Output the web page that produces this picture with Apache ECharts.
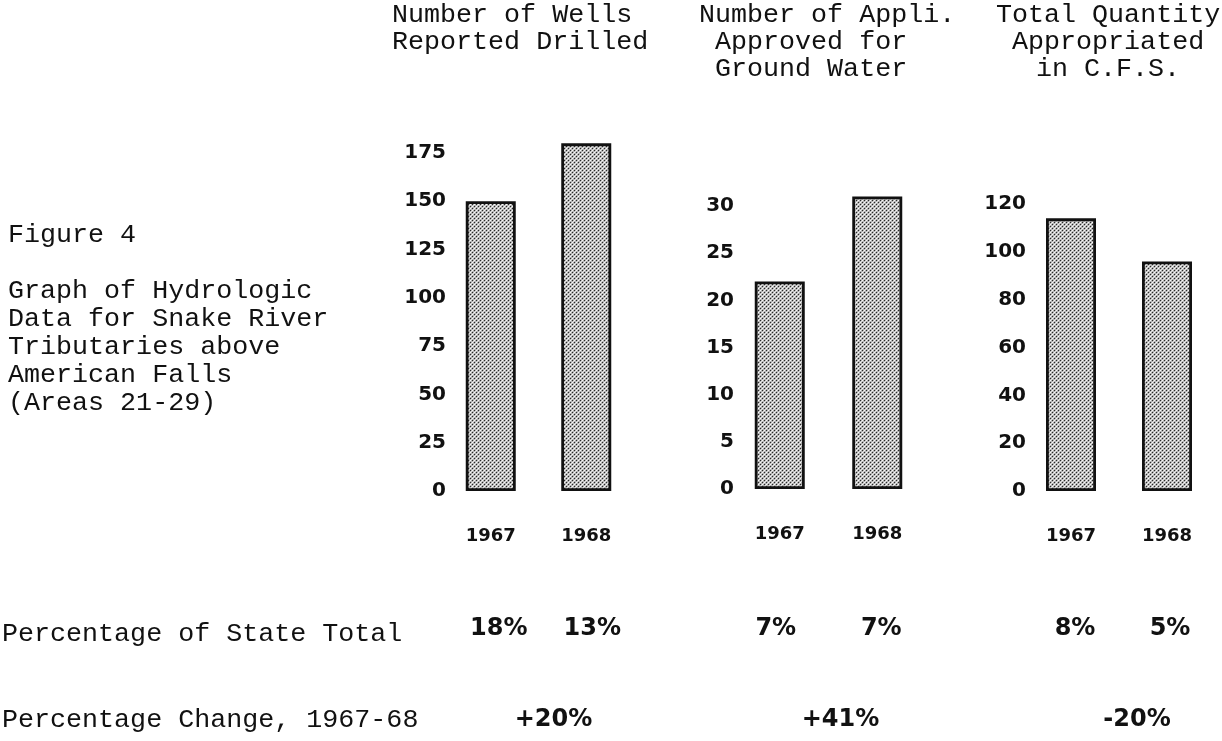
<!DOCTYPE html>
<html>
<head>
<meta charset="utf-8">
<script src="https://cdn.jsdelivr.net/npm/echarts@6/dist/echarts.min.js"></script>
<style>
html,body{margin:0;padding:0;background:#fff;}
#chart{width:1222px;height:741px;}
</style>
</head>
<body>
<div id="chart"></div>
<script>
// ---- data ----
const years = ['1967', '1968'];
const wellsDrilled = [150, 180];
const appsApproved = [22, 31];
const quantityCfs = [114, 96];
const wellsAxis = {max: 175, interval: 25};
const appsAxis = {max: 30, interval: 5};
const qtyAxis = {max: 120, interval: 20};
const titleWells = ['Number of Wells', 'Reported Drilled'];
const titleApps = ['Number of Appli.', 'Approved for', 'Ground Water'];
const titleQty = ['Total Quantity', 'Appropriated', 'in C.F.S.'];
const captionLines = ['Figure 4', '', 'Graph of Hydrologic', 'Data for Snake River', 'Tributaries above', 'American Falls', '(Areas 21-29)'];
const rowLabelState = 'Percentage of State Total';
const rowLabelChange = 'Percentage Change, 1967-68';
const pctStateWells = ['18%', '13%'];
const pctStateApps = ['7%', '7%'];
const pctStateQty = ['8%', '5%'];
const pctChange = ['+20%', '+41%', '-20%'];

// ---- style ----
const MONO = "'Liberation Mono', 'DejaVu Sans Mono', monospace";
const SANS = "'DejaVu Sans', sans-serif";
const INK = '#111';

function makePattern() {
  const c = document.createElement('canvas');
  c.width = 4; c.height = 4;
  const g = c.getContext('2d');
  g.fillStyle = '#b4b4b4'; g.fillRect(0, 0, 4, 4);
  g.fillStyle = '#2a2a2a';
  g.fillRect(0, 0, 1, 1); g.fillRect(2, 2, 1, 1);
  g.fillStyle = '#fbfbfb';
  g.fillRect(2, 0, 1, 1); g.fillRect(0, 2, 1, 1);
  g.fillStyle = '#e2e2e2';
  g.fillRect(1, 1, 1, 1); g.fillRect(3, 3, 1, 1);
  return c;
}
const pattern = {image: makePattern(), repeat: 'repeat'};

const grids = [
  {left: 443, width: 191, top: 153, bottom: 250},
  {left: 731, width: 195, top: 206, bottom: 252},
  {left: 1023, width: 192, top: 204, bottom: 250}
];
const axesCfg = [wellsAxis, appsAxis, qtyAxis];
const seriesData = [wellsDrilled, appsApproved, quantityCfs];

const chart = echarts.init(document.getElementById('chart'), null, {renderer: 'canvas'});

const option = {
  backgroundColor: '#fff',
  animation: false,
  grid: grids,
  xAxis: grids.map((g, i) => ({
    type: 'category', gridIndex: i, data: years,
    axisLine: {show: false}, axisTick: {show: false},
    axisLabel: {margin: 36, color: INK, fontFamily: SANS, fontWeight: 'bold', fontSize: 18}
  })),
  yAxis: axesCfg.map((a, i) => ({
    type: 'value', gridIndex: i, min: 0, max: a.max, interval: a.interval,
    splitLine: {show: false}, axisLine: {show: false}, axisTick: {show: false},
    axisLabel: {margin: -3, color: INK, fontFamily: SANS, fontWeight: 'bold', fontSize: 20,
      padding: [0, 0, 14, 0]}
  })),
  series: seriesData.map((d, i) => ({
    type: 'bar', xAxisIndex: i, yAxisIndex: i, data: d, barWidth: 50, clip: false,
    itemStyle: {color: pattern, borderColor: INK, borderWidth: 2.8}
  }))
};
chart.setOption(option);

// ---- annotation texts ----
function txt(x, y, s, font, align) {
  return {type: 'text', x: x, y: y, style: {text: s, font: font, fill: INK, textAlign: align || 'left', textVerticalAlign: 'middle'}};
}
const monoFont = '26.7px ' + MONO;
const pctFont = 'bold 24px ' + SANS;
const els = [];
const lh = 27;
titleWells.forEach((s, k) => els.push(txt(392, 15 + k * lh, s, monoFont)));
titleApps.forEach((s, k) => els.push(txt(k === 0 ? 699 : 715, 15 + k * lh, s, monoFont)));
titleQty.forEach((s, k) => els.push(txt([996, 1012, 1036][k], 15 + k * lh, s, monoFont)));
captionLines.forEach((s, k) => { if (s) els.push(txt(8, 235 + k * 28, s, monoFont)); });
els.push(txt(2, 634, rowLabelState, monoFont));
els.push(txt(2, 720, rowLabelChange, monoFont));

const pctState = [pctStateWells, pctStateApps, pctStateQty];
const pctDx = [[8, 6], [-4, 4], [4, 3]];
const chgDx = [15, 12, 18];
pctState.forEach((arr, i) => {
  const p = years.map(y => chart.convertToPixel({gridIndex: i}, [y, 0]));
  arr.forEach((s, j) => els.push(txt(p[j][0] + pctDx[i][j], 629, s, pctFont, 'center')));
  const mid = (p[0][0] + p[1][0]) / 2;
  els.push(txt(mid + chgDx[i], 720, pctChange[i], pctFont, 'center'));
});
chart.setOption({graphic: {elements: els}});
</script>
</body>
</html>
